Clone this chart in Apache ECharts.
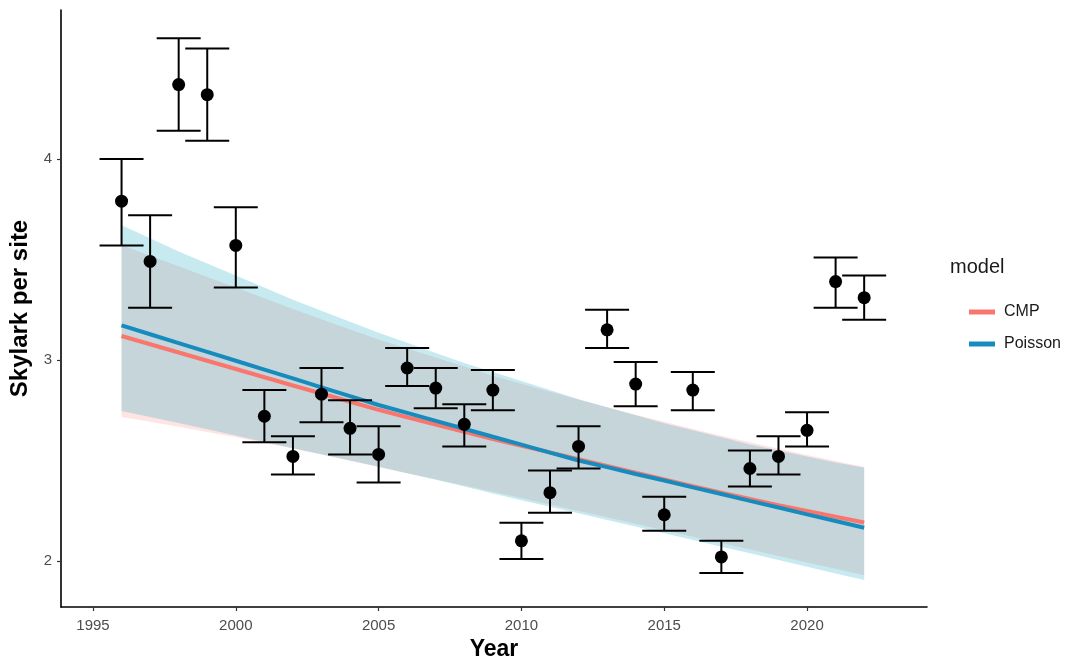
<!DOCTYPE html>
<html>
<head>
<meta charset="utf-8">
<script src="https://cdn.jsdelivr.net/npm/echarts@6/dist/echarts.min.js"></script>
<style>html,body{margin:0;padding:0;background:#fff;}#c{width:1070px;height:661px;}</style>
</head>
<body>
<div id="c"></div>
<script>
const years = [1996,1997,1998,1999,2000,2001,2002,2003,2004,2005,2006,2007,2008,2009,2010,2011,2012,2013,2014,2015,2016,2017,2018,2019,2020,2021,2022];
const obsMean = [3.79,3.49,4.37,4.32,3.57,2.72,2.52,2.83,2.66,2.53,2.96,2.86,2.68,2.85,2.10,2.34,2.57,3.15,2.88,2.23,2.85,2.02,2.46,2.52,2.65,3.39,3.31];
const obsLow  = [3.57,3.26,4.14,4.09,3.36,2.59,2.43,2.69,2.53,2.39,2.87,2.76,2.57,2.75,2.01,2.24,2.46,3.06,2.77,2.15,2.75,1.94,2.37,2.43,2.57,3.26,3.20];
const obsHigh = [4.00,3.72,4.60,4.55,3.76,2.85,2.62,2.96,2.80,2.67,3.06,2.96,2.78,2.95,2.19,2.45,2.67,3.25,2.99,2.32,2.94,2.10,2.55,2.62,2.74,3.51,3.42];

const cmpFit  = [3.119,3.078,3.037,2.996,2.955,2.914,2.873,2.833,2.792,2.752,2.715,2.679,2.643,2.607,2.573,2.540,2.506,2.473,2.439,2.406,2.372,2.340,2.308,2.278,2.249,2.220,2.191];
const cmpLow  = [2.716,2.692,2.668,2.642,2.615,2.588,2.560,2.530,2.499,2.468,2.437,2.406,2.375,2.344,2.313,2.281,2.249,2.217,2.185,2.153,2.121,2.089,2.057,2.025,1.993,1.961,1.929];
const cmpHigh = [3.572,3.519,3.466,3.413,3.360,3.307,3.254,3.203,3.152,3.102,3.057,3.012,2.967,2.922,2.882,2.842,2.803,2.765,2.728,2.692,2.657,2.623,2.590,2.558,2.527,2.497,2.468];

const poisFit  = [3.172,3.128,3.084,3.040,2.996,2.952,2.908,2.864,2.820,2.776,2.737,2.697,2.658,2.618,2.579,2.539,2.500,2.467,2.433,2.400,2.366,2.333,2.299,2.266,2.232,2.199,2.165];
const poisLow  = [2.746,2.716,2.686,2.655,2.624,2.592,2.561,2.531,2.500,2.469,2.437,2.404,2.370,2.336,2.302,2.270,2.238,2.204,2.171,2.138,2.104,2.071,2.038,2.005,1.971,1.938,1.905];
const poisHigh = [3.670,3.605,3.540,3.480,3.420,3.360,3.300,3.245,3.190,3.135,3.085,3.035,2.985,2.940,2.895,2.850,2.805,2.765,2.725,2.685,2.650,2.615,2.580,2.550,2.520,2.490,2.465];

const xTicks = [1995,2000,2005,2010,2015,2020];
const yTicks = [2,3,4];
const modelNames = ['CMP','Poisson'];

const FONT = 'Liberation Sans, Arial, sans-serif';
const chart = echarts.init(document.getElementById('c'), null, {renderer:'canvas'});

function ribbonSeries(name, low, high, fill, z) {
  const data = years.map((y,i)=>[y, low[i], high[i]]);
  return {
    type:'custom', name: name, z: z, silent:true,
    data: data,
    encode:{x:0, y:[1,2]},
    renderItem: function(params, api){
      if (params.dataIndex !== 0) return null;
      const pts = [];
      for (let i=0;i<data.length;i++) pts.push(api.coord([data[i][0], data[i][2]]));
      for (let i=data.length-1;i>=0;i--) pts.push(api.coord([data[i][0], data[i][1]]));
      return {type:'polygon', shape:{points:pts}, style:{fill:fill, stroke:null}};
    }
  };
}

const errData = years.map((y,i)=>[y, obsLow[i], obsHigh[i]]);
const capHalf = 0.77;

const option = {
  animation:false,
  backgroundColor:'#ffffff',
  grid:{left:61, top:10, width:866, height:597, containLabel:false, outerBoundsMode:'none'},
  xAxis:{
    type:'value', min:1993.88, max:2024.2,
    name:'Year', nameLocation:'middle', nameGap:30,
    nameTextStyle:{fontFamily:FONT, fontSize:23, fontWeight:'bold', color:'#000'},
    axisLine:{show:true, lineStyle:{color:'#000', width:1.6}},
    axisTick:{show:true, length:4, customValues:xTicks, lineStyle:{color:'#333', width:1.2}},
    axisLabel:{customValues:xTicks, formatter:function(v){return String(v);}, fontFamily:FONT, fontSize:15, color:'#4d4d4d', margin:11},
    splitLine:{show:false}
  },
  yAxis:{
    type:'value', min:1.771, max:4.741,
    name:'Skylark per site', nameLocation:'middle', nameGap:27, nameRotate:90,
    nameTextStyle:{fontFamily:FONT, fontSize:24, fontWeight:'bold', color:'#000'},
    axisLine:{show:true, lineStyle:{color:'#000', width:1.6}},
    axisTick:{show:true, length:4, customValues:yTicks, lineStyle:{color:'#333', width:1.2}},
    axisLabel:{customValues:yTicks, formatter:function(v){return String(v);}, fontFamily:FONT, fontSize:15, color:'#4d4d4d', margin:9},
    splitLine:{show:false}
  },
  legend:{
    data: modelNames,
    orient:'vertical', left:964, top:299, itemGap:16,
    icon:'rect', itemWidth:26, itemHeight:5,
    textStyle:{fontFamily:FONT, fontSize:16, color:'#1a1a1a', padding:[0,0,0,4]}
  },
  graphic:[{
    type:'text', left:950, top:257,
    style:{text:'model', font:'20px ' + FONT, fill:'#1a1a1a'}
  }],
  series:[
    ribbonSeries('cmpBand', cmpLow, cmpHigh, 'rgba(248,118,109,0.2)', 1),
    ribbonSeries('poisBand', poisLow, poisHigh, 'rgba(0,160,190,0.22)', 2),
    {
      type:'line', name:'CMP', z:3, showSymbol:false, symbol:'none',
      data: years.map((y,i)=>[y, cmpFit[i]]),
      lineStyle:{color:'#F8766D', width:4}, itemStyle:{color:'#F8766D'}
    },
    {
      type:'line', name:'Poisson', z:4, showSymbol:false, symbol:'none',
      data: years.map((y,i)=>[y, poisFit[i]]),
      lineStyle:{color:'#168CBE', width:4}, itemStyle:{color:'#168CBE'}
    },
    {
      type:'custom', name:'err', z:5, silent:true,
      data: errData, encode:{x:0, y:[1,2]},
      renderItem: function(params, api){
        const x = api.value(0), lo = api.value(1), hi = api.value(2);
        const pLo = api.coord([x, lo]), pHi = api.coord([x, hi]);
        const l1 = api.coord([x - capHalf, lo]), r1 = api.coord([x + capHalf, lo]);
        const l2 = api.coord([x - capHalf, hi]), r2 = api.coord([x + capHalf, hi]);
        const st = {stroke:'#000', lineWidth:2};
        return {type:'group', children:[
          {type:'line', shape:{x1:pLo[0], y1:pLo[1], x2:pHi[0], y2:pHi[1]}, style:st},
          {type:'line', shape:{x1:l1[0], y1:l1[1], x2:r1[0], y2:r1[1]}, style:st},
          {type:'line', shape:{x1:l2[0], y1:l2[1], x2:r2[0], y2:r2[1]}, style:st}
        ]};
      }
    },
    {
      type:'scatter', name:'obs', z:6, silent:true,
      data: years.map((y,i)=>[y, obsMean[i]]),
      symbol:'circle', symbolSize:13, itemStyle:{color:'#000', opacity:1}
    }
  ]
};
chart.setOption(option);
</script>
</body>
</html>
